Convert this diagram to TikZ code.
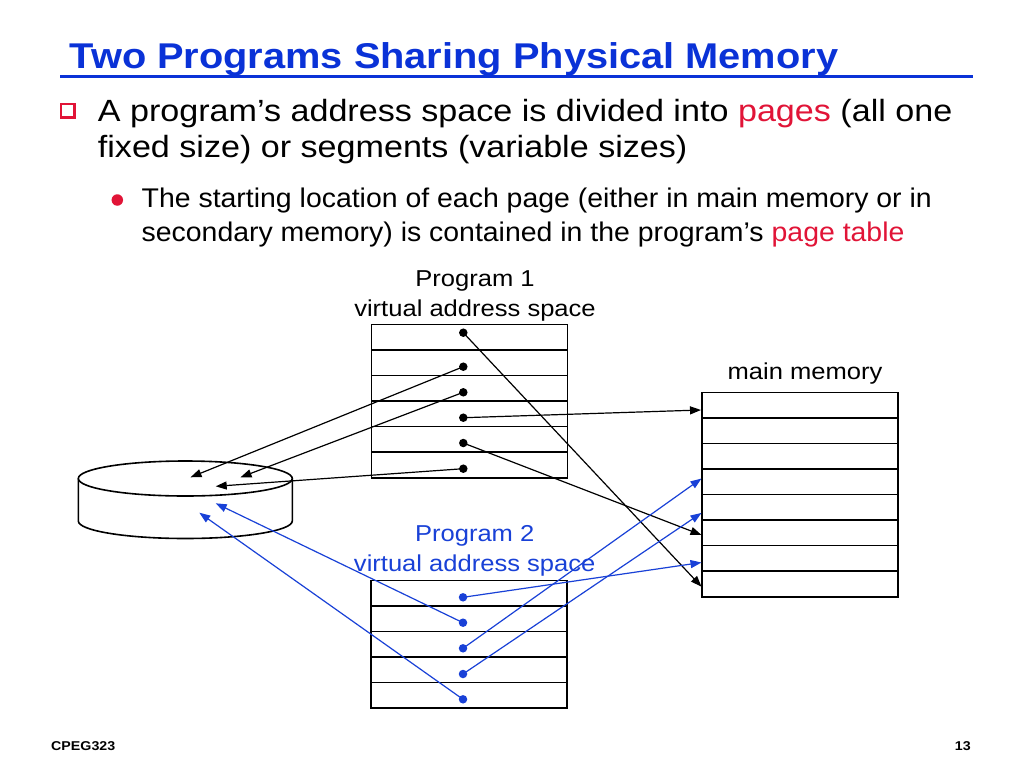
\documentclass[tikz,border=0pt]{standalone}
\usepackage{fontspec}
\setmainfont{Liberation Sans}[FakeStretch=1.111]
\newfontfamily\subfont{Liberation Sans}[FakeStretch=1.053]
\usetikzlibrary{arrows.meta}
\definecolor{tblue}{RGB}{10,50,215}
\definecolor{dblue}{RGB}{25,65,215}
\definecolor{bred}{RGB}{225,20,55}
\begin{document}
\begin{tikzpicture}[x=1pt,y=-1pt,
  row/.style={draw=black, line width=1.6pt, minimum width=196pt, minimum height=25.55pt, inner sep=0pt, outer sep=0pt},
  dot/.style={circle, fill=black, minimum size=8.5pt, inner sep=0pt, outer sep=0pt},
  bdot/.style={dot, fill=dblue},
  link/.style={draw=black, line width=1.2pt, -{Triangle[length=11pt,width=8pt]}},
  blink/.style={link, draw=dblue},
  lbl/.style={font=\fontsize{23}{27}\selectfont, inner sep=0pt, anchor=base},
  txt/.style={anchor=base west, inner sep=0pt}
]
\useasboundingbox (0,0) rectangle (1024,768);
\fill[white] (0,0) rectangle (1024,768);

% title
\node[txt, text=tblue, font=\fontsize{35.8}{40}\selectfont\bfseries] (title) at (69.5,68.3) {Two Programs Sharing Physical Memory};
\coordinate (ulA) at (60,76.7);
\coordinate (ulB) at (972.5,76.7);
\draw[tblue, line width=2.6pt] (ulA) -- (ulB);

% bullet 1
\fill[bred] (60,103.3) rectangle (76,119.3);
\fill[white] (62,105) rectangle (72.5,115.7);
\node[txt, font=\fontsize{30.7}{36}\selectfont] (b1) at (97.7,121) {A program’s address space is divided into \textcolor{bred}{pages} (all one};
\node[txt, font=\fontsize{30.7}{36}\selectfont] (b2) at (97.7,157.7) {fixed size) or segments (variable sizes)};

% sub bullet
\node[circle, fill=bred, minimum size=11.5pt, inner sep=0pt] (sd) at (117.3,200) {};
\node[txt, font=\subfont\fontsize{27}{32}\selectfont] (s1) at (141.5,207.2) {The starting location of each page (either in main memory or in};
\node[txt, font=\subfont\fontsize{27}{32}\selectfont] (s2) at (141.5,241.7) {secondary memory) is contained in the program’s \textcolor{bred}{page table}};

% labels
\node[lbl] (l1a) at (475,286.7) {Program 1};
\node[lbl] (l1b) at (475,316.7) {virtual address space};
\node[lbl] (lmm) at (805,379.3) {main memory};
\node[lbl, text=dblue] (l2a) at (474.7,541.7) {Program 2};
\node[lbl, text=dblue] (l2b) at (474.7,571.7) {virtual address space};

% boxes
\foreach \i in {1,...,6} \node[row] (p1r\i) at (469.4,{324.3+25.57*(\i-0.5)}) {};
\foreach \i in {1,...,8} \node[row] (mm\i) at (800,{392.3+25.55*(\i-0.5)}) {};
\foreach \i in {1,...,5} \node[row] (p2r\i) at (469.2,{580.3+25.54*(\i-0.5)}) {};

% disk
\draw[line width=1.6pt] (78.3,478.5) -- (78.3,521) arc[start angle=180,end angle=360,x radius=107pt,y radius=17.5pt] -- (292.3,478.5);
\draw[line width=1.6pt] (185.3,478.5) ellipse [x radius=107pt, y radius=17.5pt];

% arrow targets
\coordinate (dk1) at (190.5,477.3);
\coordinate (dk2) at (240.5,477.3);
\coordinate (dk3) at (215.7,486.3);
\coordinate (dk4) at (199.3,512.7);
\coordinate (dk5) at (215.7,503.3);
\coordinate (t1) at (701,410);
\coordinate (t4) at (701.5,478.5);
\coordinate (t5) at (701.5,512.9);
\coordinate (t6) at (701.5,535);
\coordinate (t7) at (701.5,562.5);
\coordinate (t8) at (701.5,586.7);

% program 1 dots
\node[dot] (a1) at (463.3,332.7) {};
\node[dot] (a2) at (463.3,366.7) {};
\node[dot] (a3) at (463.3,392.3) {};
\node[dot] (a4) at (463.3,417.7) {};
\node[dot] (a5) at (463.3,443) {};
\node[dot] (a6) at (463.3,468.7) {};

% program 2 dots
\node[bdot] (c1) at (463,597.3) {};
\node[bdot] (c2) at (463,622.7) {};
\node[bdot] (c3) at (463,648.3) {};
\node[bdot] (c4) at (463,674) {};
\node[bdot] (c5) at (463,699.3) {};

% connectors program 1
\draw[link] (a1.center) -- (t8);
\draw[link] (a2.center) -- (dk1);
\draw[link] (a3.center) -- (dk2);
\draw[link] (a4.center) -- (t1);
\draw[link] (a5.center) -- (t6);
\draw[link] (a6.center) -- (dk3);

% connectors program 2
\draw[blink] (c1.center) -- (t7);
\draw[blink] (c2.center) -- (dk5);
\draw[blink] (c3.center) -- (t4);
\draw[blink] (c4.center) -- (t5);
\draw[blink] (c5.center) -- (dk4);

% footer
\node[txt, font=\fontsize{12.8}{15}\selectfont\bfseries] (ft1) at (51,750.7) {CPEG323};
\node[anchor=base east, inner sep=0pt, font=\fontsize{12.8}{15}\selectfont\bfseries] (ft2) at (971,750.7) {13};
\end{tikzpicture}
\end{document}
